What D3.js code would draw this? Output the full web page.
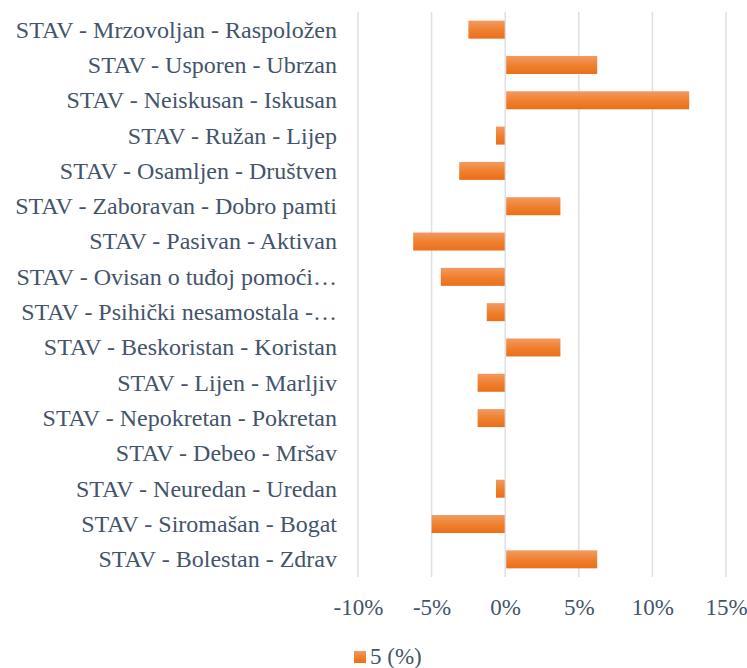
<!DOCTYPE html>
<html>
<head>
<meta charset="utf-8">
<script src="https://cdn.jsdelivr.net/npm/d3@7"></script>
<style>
body{margin:0;background:#fff;}
svg{display:block;}
</style>
</head>
<body>
<svg id="chart" width="747" height="668"></svg>
<script>
const categories = [
  "STAV - Mrzovoljan - Raspoložen",
  "STAV - Usporen - Ubrzan",
  "STAV - Neiskusan - Iskusan",
  "STAV - Ružan - Lijep",
  "STAV - Osamljen - Društven",
  "STAV - Zaboravan - Dobro pamti",
  "STAV - Pasivan - Aktivan",
  "STAV - Ovisan o tuđoj pomoći…",
  "STAV - Psihički nesamostala -…",
  "STAV - Beskoristan - Koristan",
  "STAV - Lijen - Marljiv",
  "STAV - Nepokretan - Pokretan",
  "STAV - Debeo - Mršav",
  "STAV - Neuredan - Uredan",
  "STAV - Siromašan - Bogat",
  "STAV - Bolestan - Zdrav"
];
const values = [-2.5, 6.25, 12.5, -0.625, -3.125, 3.75, -6.25, -4.375, -1.25, 3.75, -1.875, -1.875, 0, -0.625, -5, 6.25];
const tickValues = [-10, -5, 0, 5, 10, 15];
const seriesName = "5 (%)";

const FONT = '"Liberation Serif", "Times New Roman", Tinos, serif';
const TXT = "#44546A";
const svg = d3.select("#chart");
const plotLeft = 358, plotRight = 726, plotTop = 12, plotBottom = 577;

const x = d3.scaleLinear().domain([-10, 15]).range([plotLeft, plotRight]);
const y = d3.scaleBand().domain(categories).range([plotTop, plotBottom]).paddingInner(0.49).paddingOuter(0.245);

const defs = svg.append("defs");
const grad = defs.append("linearGradient").attr("id", "barGrad")
  .attr("x1", 0).attr("y1", 0).attr("x2", 0).attr("y2", 1);
grad.append("stop").attr("offset", "0%").attr("stop-color", "#F29A62");
grad.append("stop").attr("offset", "55%").attr("stop-color", "#EF7F2C");
grad.append("stop").attr("offset", "100%").attr("stop-color", "#E96F1C");

// gridlines
svg.append("g").selectAll("line").data(tickValues).join("line")
  .attr("x1", d => x(d)).attr("x2", d => x(d))
  .attr("y1", plotTop).attr("y2", plotBottom)
  .attr("stroke", "#DCE0E6").attr("stroke-width", 1.5);

// bars
svg.append("g").selectAll("rect").data(values).join("rect")
  .attr("x", d => d >= 0 ? x(0) + 1 : x(d))
  .attr("y", (d, i) => y(categories[i]))
  .attr("width", d => d >= 0 ? Math.max(0, x(d) - x(0) - 1) : x(0) - x(d) - 0.5)
  .attr("height", y.bandwidth())
  .attr("fill", "url(#barGrad)");

// category labels
svg.append("g").selectAll("text").data(categories).join("text")
  .attr("x", 337)
  .attr("y", d => y(d) + y.bandwidth() / 2)
  .attr("dy", "0.33em")
  .attr("text-anchor", "end")
  .style("font-family", FONT).style("font-size", "24px").style("fill", TXT)
  .text(d => d);

// x axis tick labels
const xAxis = d3.axisBottom(x).tickValues(tickValues).tickSize(0).tickFormat(d => d + "%");
const gx = svg.append("g").attr("transform", `translate(0,${plotBottom})`).call(xAxis);
gx.select(".domain").remove();
gx.selectAll("text").attr("y", 0).attr("dy", "38px")
  .style("font-family", FONT).style("font-size", "23px").style("fill", TXT);

// legend
svg.append("rect").attr("x", 354).attr("y", 651).attr("width", 12).attr("height", 12).attr("fill", "url(#barGrad)");
svg.append("text").attr("x", 370).attr("y", 664)
  .style("font-family", FONT).style("font-size", "23px").style("fill", TXT)
  .text(seriesName);
</script>
</body>
</html>
